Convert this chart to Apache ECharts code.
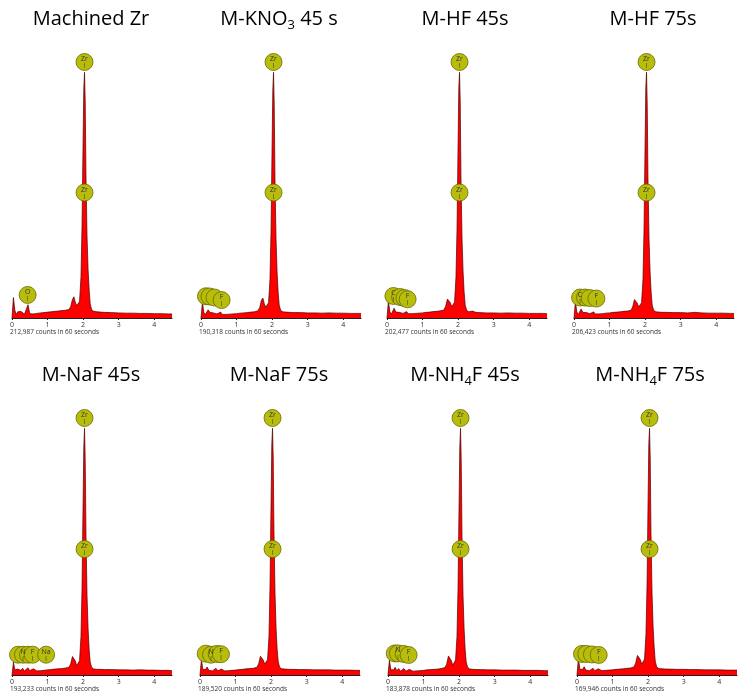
<!DOCTYPE html>
<html>
<head>
<meta charset="utf-8">
<script src="https://cdn.jsdelivr.net/npm/echarts@6/dist/echarts.min.js"></script>
<style>
  html, body { margin: 0; background: #fff; }
  #chart { width: 743px; height: 698px; }
</style>
</head>
<body>
<div id="chart"></div>
<script>
// energy axis (keV), shared by all eight spectra
const energy = [0, 0.04, 0.08, 0.12, 0.16, 0.2, 0.25, 0.3, 0.35, 0.4, 0.45, 0.5, 0.55, 0.6, 0.7, 0.8, 0.9, 1.0,
  1.1, 1.2, 1.3, 1.4, 1.5, 1.6, 1.65, 1.7, 1.74, 1.78, 1.82, 1.86, 1.9, 1.94, 1.97, 2.0, 2.02, 2.04, 2.06, 2.08,
  2.11, 2.14, 2.17, 2.2, 2.24, 2.3, 2.4, 2.5, 2.6, 2.8, 3.0, 3.2, 3.4, 3.6, 3.8, 4.0, 4.2, 4.4, 4.5];

// counts, as % of the Zr peak marker height
const machinedZr = [0, 8, 3, 1.4, 2.4, 1.7, 2.6, 1.9, 1.5, 1.6, 5.2, 1.7, 1.5, 1.6, 1.8, 2.0, 2.1, 2.3, 2.4, 2.6, 2.7, 2.9,
  3.0, 3.3, 4.4, 7.2, 8.3, 6.2, 4.8, 4.5, 6.5, 16, 36, 70, 90, 96, 84, 56, 32, 19, 11, 5.5, 3.2, 2.6, 2.4, 2.3, 2.2,
  2.1, 2.0, 1.9, 1.9, 1.8, 1.8, 1.7, 1.7, 1.6, 1.6];
const kno3_45 = [0, 6.2, 2.2, 1.3, 2.0, 3.2, 2.2, 1.5, 2.0, 2.6, 1.6, 1.5, 2.3, 1.4, 1.4, 1.5, 1.6, 1.7, 1.9, 2.0, 2.1, 2.3,
  2.4, 2.8, 4.0, 7.0, 7.8, 5.6, 4.2, 3.9, 6.0, 15, 34, 68, 89, 96, 83, 55, 31, 18, 10, 5, 3.0, 2.4, 2.3, 2.2, 2.1,
  2.1, 2.0, 2.0, 1.9, 2.0, 1.9, 1.9, 1.8, 1.8, 1.8];
const hf_45 = [0, 6.6, 2.4, 1.5, 2.2, 3.8, 2.3, 1.7, 2.2, 2.9, 1.8, 1.7, 2.5, 1.7, 1.7, 1.8, 1.9, 2.0, 2.2, 2.3, 2.5, 2.6,
  2.8, 3.1, 4.6, 7.4, 8.0, 6.0, 4.4, 4.0, 6.2, 16, 35, 69, 90, 96, 84, 55, 31, 18, 10, 5, 3.0, 2.4, 2.7, 2.2, 2.1,
  2.0, 2.0, 1.9, 2.0, 1.9, 1.9, 1.8, 1.8, 1.8, 1.7];
const hf_75 = [0, 6.4, 2.3, 1.4, 2.1, 3.5, 2.2, 1.6, 2.1, 2.7, 1.7, 1.6, 2.4, 1.6, 1.6, 1.7, 1.9, 2.0, 2.2, 2.3, 2.4, 2.6,
  2.7, 3.0, 4.3, 7.2, 7.8, 5.8, 4.3, 4.0, 6.0, 15, 35, 69, 90, 96, 83, 55, 31, 18, 10, 5, 3.0, 2.4, 2.3, 2.2, 2.2,
  2.1, 2.1, 2.0, 2.2, 2.0, 1.9, 1.9, 1.9, 1.8, 1.8];
const naf_45 = [0, 5.0, 2.0, 1.4, 2.3, 3.0, 1.8, 2.6, 1.6, 1.6, 2.8, 1.7, 1.6, 2.4, 1.6, 1.7, 1.8, 2.0, 2.1, 2.3, 2.4, 2.5,
  2.7, 3.0, 4.3, 7.2, 7.8, 5.5, 3.6, 3.3, 5.6, 15, 34, 68, 89, 96, 83, 55, 31, 18, 10, 5, 3.0, 2.3, 2.2, 2.2, 2.1,
  2.1, 2.0, 2.0, 1.9, 2.0, 1.9, 1.9, 1.8, 1.8, 1.7];
const naf_75 = [0, 6.0, 2.1, 1.4, 2.2, 3.1, 1.8, 2.5, 1.6, 1.6, 2.6, 1.6, 1.5, 2.3, 1.6, 1.7, 1.8, 1.9, 2.1, 2.2, 2.4, 2.5,
  2.6, 3.0, 4.4, 7.3, 7.8, 5.8, 4.2, 3.9, 6.0, 15, 35, 69, 90, 96, 84, 56, 32, 18, 10, 5.2, 3.0, 2.4, 2.3, 2.2, 2.2,
  2.1, 2.1, 2.0, 2.0, 2.0, 1.9, 1.9, 1.9, 1.8, 1.8];
const nh4f_45 = [0, 5.8, 2.0, 1.3, 2.0, 3.0, 1.7, 2.5, 1.5, 1.5, 2.5, 1.5, 1.5, 2.2, 1.5, 1.6, 1.7, 1.8, 2.0, 2.1, 2.2, 2.3,
  2.5, 2.9, 4.2, 7.4, 8.0, 5.6, 3.8, 3.6, 5.8, 15, 34, 68, 89, 96, 83, 55, 31, 18, 10, 5, 3.0, 2.3, 2.2, 2.1, 2.1,
  2.0, 2.0, 1.9, 1.9, 1.9, 1.8, 1.8, 1.8, 1.7, 1.7];
const nh4f_75 = [0, 6.5, 2.2, 1.5, 2.2, 3.2, 1.9, 2.6, 1.7, 1.7, 2.6, 1.7, 1.6, 2.4, 1.7, 1.8, 1.9, 2.0, 2.2, 2.3, 2.4, 2.6,
  2.7, 3.1, 4.6, 7.6, 8.2, 6.0, 4.2, 3.9, 6.2, 16, 35, 69, 90, 96, 84, 56, 32, 19, 11, 5.4, 3.2, 2.5, 2.4, 2.3, 2.3,
  2.2, 2.2, 2.1, 2.1, 2.0, 2.0, 2.0, 1.9, 1.9, 1.9];

// element markers: [keV, height, label]
const zrMarks = [[2.04, 100, 'Zr'], [2.04, 49, 'Zr']];
const marksMachined = [[0.44, 9, 'O']];
const marksKno3_45 = [[0.14, 8.5, ''], [0.24, 8.4, ''], [0.38, 8, ''], [0.58, 7, 'F']];
const marksHf_45 = [[0.18, 8.6, 'C'], [0.37, 8.2, ''], [0.49, 7.8, ''], [0.58, 7.3, 'F']];
const marksHf_75 = [[0.17, 8, 'C'], [0.31, 8, ''], [0.44, 7.8, ''], [0.63, 7.6, 'F']];
const marksNaf_45 = [[0.17, 7.9, ''], [0.31, 7.9, 'N'], [0.45, 7.9, ''], [0.58, 7.9, 'F'], [0.96, 7.9, 'Na']];
const marksNaf_75 = [[0.16, 8.3, ''], [0.31, 7.9, 'N'], [0.47, 8.2, ''], [0.59, 8.1, 'F']];
const marksNh4f_45 = [[0.19, 8.4, ''], [0.28, 8.4, 'N'], [0.44, 8.2, ''], [0.58, 7.8, 'F']];
const marksNh4f_75 = [[0.14, 8.2, ''], [0.26, 8.2, ''], [0.42, 8, ''], [0.61, 7.8, 'F']];

const titles = ['{a|Machined Zr}', '{a|M-KNO}{s|3}{a| 45 s}', '{a|M-HF 45s}', '{a|M-HF 75s}',
  '{a|M-NaF 45s}', '{a|M-NaF 75s}', '{a|M-NH}{s|4}{a|F 45s}', '{a|M-NH}{s|4}{a|F 75s}'];
const counts = ['212,987', '190,318', '202,477', '206,423', '193,233', '189,520', '183,878', '169,946'];

const spectra = [machinedZr, kno3_45, hf_45, hf_75, naf_45, naf_75, nh4f_45, nh4f_75];
const lowMarks = [marksMachined, marksKno3_45, marksHf_45, marksHf_75, marksNaf_45, marksNaf_75, marksNh4f_45, marksNh4f_75];

const lefts = [12, 201, 387, 574, 12, 200, 388, 577];
const titleX = [91, 279, 465, 653, 91, 279, 465, 650];
const rowTop = [62, 418], rowBase = [318, 675], titleY = [19, 375];
const plotW = 160;

const grid = [], xAxis = [], yAxis = [], series = [], graphic = [];
spectra.forEach((s, i) => {
  const r = i < 4 ? 0 : 1;
  grid.push({ left: lefts[i], top: rowTop[r], width: plotW, height: rowBase[r] - rowTop[r] });
  xAxis.push({
    gridIndex: i, type: 'value', min: 0, max: 4.5, interval: 1,
    axisLine: { lineStyle: { color: '#222', width: 1 } },
    axisTick: { length: 2, lineStyle: { color: '#222' } },
    splitLine: { show: false },
    axisLabel: { fontSize: 7, color: '#333', margin: 3, showMaxLabel: false, fontFamily: 'Open Sans' }
  });
  yAxis.push({ gridIndex: i, type: 'value', min: 0, max: 100, show: false });
  series.push({
    type: 'line', xAxisIndex: i, yAxisIndex: i, z: 2,
    data: energy.map((e, k) => [e, s[k]]),
    showSymbol: false, symbol: 'none',
    lineStyle: { color: '#4a0000', width: 0.7 },
    areaStyle: { color: '#ff0000', opacity: 1 }
  });
  series.push({
    type: 'scatter', xAxisIndex: i, yAxisIndex: i, clip: false, z: 5,
    data: lowMarks[i].concat(zrMarks).map(m => ({ value: [m[0], m[1]], name: m[2] })),
    symbolSize: 17,
    itemStyle: { color: '#b7bd0a', borderColor: '#6a6a00', borderWidth: 0.8, opacity: 1 },
    labelLayout: { hideOverlap: false },
    label: {
      show: true, position: 'inside',
      formatter: d => d.name ? '{t|' + d.name + '}\n{k||}' : '',
      rich: {
        t: { fontSize: 7, color: '#333', fontFamily: 'Open Sans', lineHeight: 7 },
        k: { fontSize: 6, color: '#333', lineHeight: 6 }
      }
    }
  });
  graphic.push({
    type: 'text', x: lefts[i] - 2, y: rowBase[r] + 14,
    style: { text: counts[i] + ' counts in 60 seconds', font: '6.5px "Open Sans"', fill: '#333', verticalAlign: 'middle' }
  });
  graphic.push({
    type: 'text', x: titleX[i], y: titleY[r],
    style: {
      text: titles[i], align: 'center', verticalAlign: 'middle',
      rich: {
        a: { fontSize: 20, fontFamily: 'Open Sans', fill: '#000', lineHeight: 26, verticalAlign: 'middle' },
        s: { fontSize: 13, fontFamily: 'Open Sans', fill: '#000', lineHeight: 26, verticalAlign: 'bottom' }
      }
    }
  });
});

const chart = echarts.init(document.getElementById('chart'));
chart.setOption({ animation: false, grid, xAxis, yAxis, series, graphic });
</script>
</body>
</html>
